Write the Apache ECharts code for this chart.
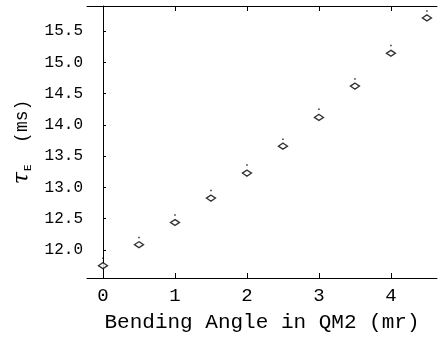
<!DOCTYPE html>
<html>
<head>
<meta charset="utf-8">
<script src="https://cdn.jsdelivr.net/npm/echarts@6/dist/echarts.min.js"></script>
<style>
  html, body { margin: 0; padding: 0; background: #fff; }
  #chart { width: 438px; height: 338px; }
</style>
</head>
<body>
<div id="chart"></div>
<script>
// bending angle in QM2 (mr)
const angles = [0, 0.5, 1, 1.5, 2, 2.5, 3, 3.5, 4, 4.5]
// measured tau_E (ms)
const tauE = [11.75, 12.085, 12.44, 12.83, 13.23, 13.66, 14.12, 14.62, 15.145, 15.71]
// small dots drawn just above each point
const tauUpper = [11.87, 12.2, 12.56, 12.95, 13.36, 13.77, 14.25, 14.735, 15.27, 15.82]

const xTicks = [0, 1, 2, 3, 4]
const yTicks = [12.0, 12.5, 13.0, 13.5, 14.0, 14.5, 15.0, 15.5]

const font = 'Liberation Mono'
const chart = echarts.init(document.getElementById('chart'))

const xMin = -0.222
const xMax = 4.64

const option = {
  animation: false,
  grid: { left: 87, top: 6, right: 1, bottom: 60 },
  xAxis: [
    {
      type: 'value',
      min: xMin,
      max: xMax,
      name: 'Bending Angle in QM2 (mr)',
      nameLocation: 'middle',
      nameGap: 34,
      nameTextStyle: { fontFamily: font, fontSize: 21, color: '#000' },
      axisLine: { lineStyle: { color: '#000', width: 1 } },
      axisTick: { inside: true, length: 5, customValues: xTicks, lineStyle: { color: '#000' } },
      axisLabel: { customValues: xTicks, fontFamily: font, fontSize: 19, color: '#000', margin: 8 },
      splitLine: { show: false }
    },
    {
      type: 'value',
      position: 'top',
      min: xMin,
      max: xMax,
      axisLine: { show: true, lineStyle: { color: '#000', width: 1 } },
      axisTick: { inside: true, length: 5, customValues: xTicks, lineStyle: { color: '#000' } },
      axisLabel: { show: false },
      splitLine: { show: false }
    }
  ],
  yAxis: {
    type: 'value',
    min: 11.553,
    max: 15.9,
    name: '{t|τ}{s|E}{u|  (ms)}',
    nameLocation: 'middle',
    nameRotate: 90,
    nameGap: 49,
    nameTextStyle: {
      fontFamily: font,
      color: '#000',
      rich: {
        t: { fontFamily: 'DejaVu Serif', fontStyle: 'italic', fontSize: 22, color: '#000' },
        s: { fontFamily: font, fontSize: 11, color: '#000', padding: [10, 0, 0, 1] },
        u: { fontFamily: font, fontSize: 18, color: '#000' }
      }
    },
    axisLine: { show: true, lineStyle: { color: '#000', width: 1 } },
    axisTick: { inside: true, length: 3, customValues: yTicks, lineStyle: { color: '#000' } },
    axisLabel: {
      customValues: yTicks,
      fontFamily: font,
      fontSize: 16,
      color: '#000',
      margin: 4,
      formatter: v => v.toFixed(1)
    },
    splitLine: { show: false }
  },
  series: [
    {
      type: 'scatter',
      data: angles.map((a, i) => [a, tauE[i]]),
      symbol: 'path://M0,-1L2,0L0,1L-2,0Z',
      symbolSize: [9, 6],
      itemStyle: { color: '#fff', borderColor: '#000', borderWidth: 1.4 },
      z: 3
    },
    {
      type: 'scatter',
      data: angles.map((a, i) => [a, tauUpper[i]]),
      symbol: 'rect',
      symbolSize: 1.5,
      itemStyle: { color: '#000' },
      z: 3
    }
  ]
}

chart.setOption(option)
</script>
</body>
</html>
